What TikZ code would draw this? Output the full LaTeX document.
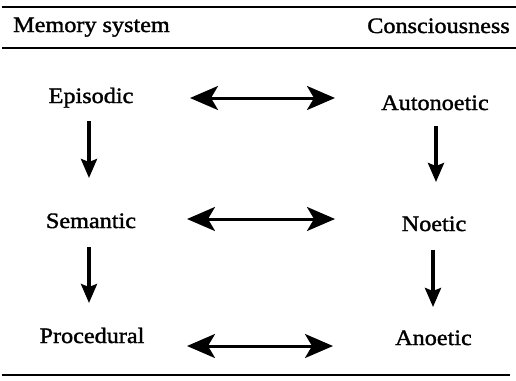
\documentclass[tikz,border=0pt]{standalone}
\usepackage{fontspec}
\setmainfont{Liberation Serif}[FakeStretch=1.1,FakeBold=1.5]
\usetikzlibrary{arrows.meta}
\begin{document}
\begin{tikzpicture}[x=1pt,y=-1pt,
  lbl/.style={inner sep=0pt,anchor=base,font=\fontsize{22}{26}\selectfont},
  rulex/.style={line width=2pt},
  harrow/.style={line width=3pt,{Stealth[length=28pt,width=24pt,inset=7pt]}-{Stealth[length=28pt,width=24pt,inset=7pt]}},
  varrow/.style={line width=3.5pt,-{Stealth[length=19pt,width=16pt,inset=3pt]}}]
\useasboundingbox (0,0) rectangle (516,380);
% rules
\coordinate (t1) at (2,7);   \coordinate (t2) at (516,7);
\coordinate (m1) at (2,48);  \coordinate (m2) at (516,48);
\coordinate (b1) at (2,375); \coordinate (b2) at (510,375);
\draw[rulex] (t1) -- (t2);
\draw[rulex] (m1) -- (m2);
\draw[rulex] (b1) -- (b2);
% header
\node[lbl,anchor=base west] (hm) at (13,32) {Memory system};
\node[lbl,anchor=base east] (hc) at (510,33) {Consciousness};
% labels
\node[lbl] (epi) at (91,103) {Episodic};
\node[lbl] (sem) at (91,228) {Semantic};
\node[lbl] (pro) at (92,343) {Procedural};
\node[lbl] (aut) at (435,110) {Autonoetic};
\node[lbl] (noe) at (434,231) {Noetic};
\node[lbl] (ano) at (433.5,345) {Anoetic};
% connector ends
\coordinate (h1a) at (190,98);  \coordinate (h1b) at (335,98);
\coordinate (h2a) at (187,219); \coordinate (h2b) at (335,219);
\coordinate (h3a) at (187,346); \coordinate (h3b) at (333,346);
\coordinate (v1a) at (89,121);  \coordinate (v1b) at (89,178);
\coordinate (v2a) at (89,247);  \coordinate (v2b) at (89,303);
\coordinate (v3a) at (436,126); \coordinate (v3b) at (436,182);
\coordinate (v4a) at (433,250); \coordinate (v4b) at (433,307);
\draw[harrow] (h1a) -- (h1b);
\draw[harrow] (h2a) -- (h2b);
\draw[harrow] (h3a) -- (h3b);
\draw[varrow] (v1a) -- (v1b);
\draw[varrow] (v2a) -- (v2b);
\draw[varrow] (v3a) -- (v3b);
\draw[varrow] (v4a) -- (v4b);
\end{tikzpicture}
\end{document}
